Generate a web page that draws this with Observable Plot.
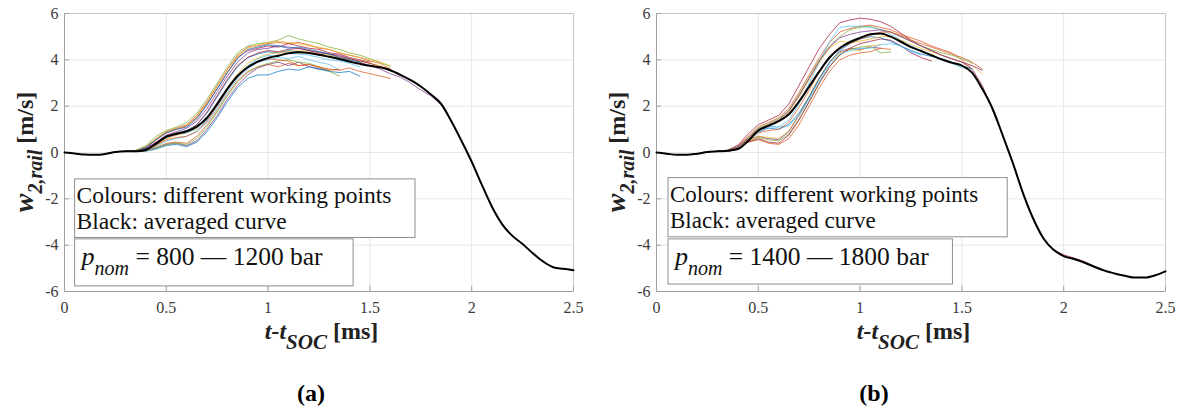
<!DOCTYPE html>
<html>
<head>
<meta charset="utf-8">
<script src="https://cdn.jsdelivr.net/npm/d3@7"></script>
<script src="https://cdn.jsdelivr.net/npm/@observablehq/plot@0.6"></script>
<style>
  html, body { margin: 0; padding: 0; background: #fff; }
  #wrap { position: relative; width: 1185px; height: 412px; overflow: hidden; background: #fff; }
  .panel { position: absolute; top: 0; }
  .cap { position: absolute; top: 381px; transform: translateX(-50%); font: bold 24px "Liberation Serif", serif; color: #000; line-height: 24px; }
  svg text { white-space: pre; font-family: "Liberation Serif", serif !important; }
</style>
</head>
<body>
<div id="wrap">
  <div class="panel" id="pa" style="left:0px"></div>
  <div class="panel" id="pb" style="left:592px"></div>
  <div class="cap" style="left:311px">(a)</div>
  <div class="cap" style="left:874px">(b)</div>
</div>
<script>
// ---------- data ----------
const xTicks = [0, 0.5, 1, 1.5, 2, 2.5];
const yTicks = [-6, -4, -2, 0, 2, 4, 6];

// time grid [ms]
const tGrid = [0,0.05,0.1,0.15,0.2,0.25,0.3,0.35,0.4,0.45,0.5,0.55,0.6,0.65,0.7,0.75,0.8,0.85,0.9,0.95,
  1,1.05,1.1,1.15,1.2,1.25,1.3,1.35,1.4,1.45,1.5,1.55,1.6,1.65,1.7,1.75,1.8,1.85,1.9,1.95,
  2,2.05,2.1,2.15,2.2,2.25,2.3,2.35,2.4,2.45,2.5];

// averaged curves (start at t = 0)
const blackA = [0,-0.04,-0.09,-0.1,-0.06,0.02,0.05,
  0.05,0.12,0.38,0.68,0.8,0.92,1.12,1.5,2.1,2.75,3.3,3.68,3.92,4.08,4.18,4.28,4.33,4.3,4.22,4.13,4.04,3.93,3.83,3.74,3.68,3.55,
  3.35,3.12,2.85,2.5,2.1,1.35,0.5,-0.4,-1.4,-2.35,-3.1,-3.6,-3.95,-4.35,-4.7,-4.95,-5.02,-5.08];
const blackB = [0,-0.05,-0.1,-0.1,-0.05,0.02,0.05,
  0.08,0.15,0.5,0.95,1.15,1.35,1.65,2.2,2.85,3.5,4.1,4.5,4.77,4.95,5.1,5.14,5.0,4.78,4.55,4.38,4.2,4.02,3.88,3.75,3.45,2.75,
  1.9,0.75,-0.45,-1.75,-2.85,-3.7,-4.2,-4.47,-4.6,-4.75,-4.93,-5.1,-5.22,-5.32,-5.4,-5.4,-5.3,-5.13];

// individual working points, panel (a) (start at t = 0.30)
const a01 = [0.05,0.1,0.3,0.7,0.95,1.1,1.3,1.7,2.3,3.0,3.7,4.3,4.6,4.7,4.75,4.85,5.05,4.9,4.8,4.7,4.55,4.45,4.3,4.2,4.05,3.9,3.7];
const a02 = [0.05,0.08,0.25,0.6,0.9,1.05,1.2,1.6,2.2,2.9,3.6,4.2,4.55,4.6,4.7,4.75,4.7,4.75,4.65,4.5,4.45,4.3,4.2,4.1,3.95,3.85,3.6];
const a03 = [0.05,0.06,0.2,0.55,0.85,1.0,1.15,1.5,2.1,2.75,3.45,4.1,4.4,4.5,4.6,4.55,4.7,4.6,4.5,4.45,4.3,4.25,4.1,4.0,3.9];
const a04 = [0.05,0.05,0.18,0.45,0.75,0.9,1.05,1.35,1.9,2.6,3.3,3.9,4.3,4.45,4.5,4.6,4.55,4.5,4.4,4.35,4.25,4.2,4.05,3.9,3.75,3.6,3.4,
  3.25,3.0,2.7,2.45,2.05,1.35];
const a05 = [0.05,0.05,0.15,0.4,0.7,0.85,0.95,1.2,1.7,2.4,3.1,3.7,4.1,4.25,4.35,4.3,4.4,4.35,4.3,4.2,4.15,4.0,3.9];
const a06 = [0.05,0.04,0.1,0.3,0.6,0.75,0.85,1.05,1.45,2.1,2.8,3.4,3.85,4.1,4.25,4.3,4.35,4.4,4.35,4.25,4.2,4.1,4.0,3.95,3.85,3.75,3.55];
const a07 = [0.05,0.04,0.08,0.25,0.5,0.6,0.7,0.9,1.3,1.9,2.6,3.2,3.6,3.9,4.0,4.1,4.05,4.15,4.0,3.9,3.8,3.55];
const a08 = [0.05,0.04,0.08,0.2,0.4,0.45,0.4,0.7,1.2,1.8,2.5,3.1,3.5,3.7,3.8,3.7,3.85,3.75,3.8,3.65,3.55,3.6];
const a09 = [0.05,0.04,0.06,0.2,0.35,0.4,0.3,0.5,1.0,1.6,2.3,2.9,3.35,3.65,3.8,3.9,3.75,3.9,3.7,3.6,3.55];
const a10 = [0.05,0.04,0.06,0.15,0.3,0.35,0.25,0.45,0.9,1.5,2.2,2.8,3.2,3.35,3.35,3.5,3.6,3.55,3.7,3.6,3.5,3.45,3.5,3.3];
const a11 = [0.05,0.04,0.07,0.2,0.35,0.4,0.35,0.6,1.1,1.75,2.45,3.05,3.45,3.7,3.85,3.95,4.0,3.9,3.85,3.7,3.5,3.3];
const a12 = [0.05,0.05,0.14,0.45,0.72,0.85,0.9,1.2,1.75,2.45,3.15,3.75,4.1,4.3,4.4,4.35,4.45,4.5,4.4,4.3,4.25,4.15,4.05,3.95,3.85,3.7,3.6];
const a13 = [0.05,0.08,0.25,0.6,0.9,1.0,1.15,1.55,2.15,2.85,3.55,4.15,4.5,4.65,4.75,4.8,4.75,4.7,4.6,4.55,4.45,4.3,4.2,4.1,4.0,3.9,3.75];
const a14 = [0.05,0.05,0.12,0.35,0.65,0.8,0.85,1.0,1.4,2.0,2.7,3.3,3.75,4.05,4.2,4.15,4.3,4.25,4.2,4.1,4.0,3.95,3.85,3.7];
const a15 = [0.05,0.05,0.1,0.3,0.55,0.65,0.7,0.9,1.35,2.0,2.7,3.3,3.7,3.95,4.05,4.0,3.95,3.75,3.8,3.7,3.6,3.55,3.65,3.5,3.4,3.3,3.2];
const a16 = [0.05,0.07,0.22,0.55,0.85,1.0,1.1,1.45,2.05,2.75,3.45,4.05,4.45,4.55,4.65,4.6,4.5,4.55,4.45,4.35,4.25,4.1,4.0,3.9];

// individual working points, panel (b) (start at t = 0.30)
const b01 = [0.05,0.1,0.32,0.8,1.2,1.4,1.6,2.1,2.9,3.7,4.5,5.1,5.6,5.72,5.8,5.75,5.65,5.45,5.15,4.85,4.6,4.4,4.2,4.05,3.9,3.6,2.9,
  1.85,0.75,-0.45,-1.75,-2.85,-3.7,-4.2,-4.42,-4.55,-4.7,-4.9,-5.08];
const b02 = [0.05,0.1,0.28,0.7,1.1,1.3,1.5,1.9,2.6,3.35,4.1,4.75,5.2,5.35,5.45,5.5,5.4,5.3,5.1,4.95,4.8,4.6,4.45,4.3,4.0,3.6];
const b03 = [0.05,0.08,0.25,0.65,1.05,1.25,1.45,1.8,2.5,3.25,4.0,4.6,5.0,5.3,5.4,5.45,5.3,5.2,5.0,4.8,4.6,4.45,4.3,4.2,4.05,3.85];
const b04 = [0.05,0.08,0.25,0.6,1.0,1.15,1.1,1.4,2.1,3.0,3.9,4.8,5.4,5.45,5.45,5.4,5.3,5.1,4.85,4.6,4.4,4.2,4.05,3.85,3.65];
const b05 = [0.05,0.06,0.2,0.55,0.7,0.6,0.55,0.9,1.6,2.4,3.2,3.9,4.35,4.5,4.45,4.55,4.5];
const b06 = [0.05,0.06,0.18,0.5,0.65,0.55,0.5,0.8,1.45,2.2,3.0,3.7,4.25,4.45,4.55,4.6,4.3,4.35];
const b07 = [0.05,0.05,0.15,0.45,0.55,0.4,0.35,0.6,1.2,2.0,2.8,3.5,4.0,4.2,4.3,4.35,4.5,4.45];
const b08 = [0.05,0.05,0.16,0.5,0.7,0.65,0.6,0.95,1.65,2.45,3.25,3.9,4.3,4.45,4.4,4.6,4.65];
const b09 = [0.05,0.05,0.14,0.45,0.6,0.45,0.4,0.75,1.4,2.2,3.0,3.7,4.2,4.5,4.7,4.8,4.9,4.85,4.6,4.3,4.1,3.95];
const b10 = [0.05,0.07,0.2,0.55,0.9,1.05,1.0,1.2,1.7,2.4,3.2,3.9,4.4,4.7,4.9,5.0,4.95,4.8,4.6,4.4,4.25,4.15,4.05,3.9,3.75,3.6];
const b11 = [0.05,0.08,0.22,0.6,1.0,1.2,1.35,1.75,2.4,3.15,3.9,4.5,4.8,4.75,4.8,4.9,5.0,5.0,4.85,4.65,4.5,4.35,4.2,4.05,3.9,3.75,3.4];
const b12 = [0.05,0.06,0.18,0.5,0.85,1.1,1.1,1.15,1.6,2.3,3.1,3.8,4.25,4.4,4.5,4.5,4.65,4.7,4.6,4.35,4.2];
const b13 = [0.05,0.08,0.24,0.62,1.0,1.2,1.4,1.8,2.45,3.2,3.95,4.55,4.95,5.1,5.2,5.25,5.3,5.2,5.0,4.8,4.6,4.4,4.2,4.05,3.9,3.75,3.55];
const b14 = [0.05,0.07,0.2,0.55,0.85,0.95,1.0,1.3,1.95,2.7,3.5,4.15,4.55,4.7,4.9,5.05,5.2,5.2,5.05,4.85,4.7,4.55,4.4,4.25,4.1,3.9,3.6];

// text
const legendLines = ["Colours: different working points", "Black: averaged curve"];
const pressureA = "= 800 \u2014 1200 bar";
const pressureB = "= 1400 \u2014 1800 bar";

// ---------- drawing ----------
const C = {blue:"#0072BD", orange:"#D95319", yellow:"#EDB120", purple:"#7E2F8E", green:"#77AC30", cyan:"#4DBEEE", red:"#A2142F"};
const curvesA = [
  [a01,C.green],[a02,C.orange],[a03,C.red],[a04,C.purple],[a05,C.blue],[a06,C.yellow],[a07,C.cyan],[a08,C.orange],
  [a09,C.purple],[a10,C.blue],[a11,C.green],[a12,C.red],[a13,C.yellow],[a14,C.cyan],[a15,C.orange],[a16,C.blue]];
const curvesB = [
  [b01,C.red],[b02,C.orange],[b03,C.green],[b04,C.cyan],[b05,C.purple],[b06,C.green],[b07,C.orange],[b08,C.yellow],
  [b09,C.red],[b10,C.blue],[b11,C.yellow],[b12,C.cyan],[b13,C.purple],[b14,C.orange]];

function rows(vals, start) { return vals.map((v, i) => ({t: tGrid[start + i], v})); }

const FONT = "Liberation Serif";

function panel(el, black, curves, boxes, pressure, fs1, fs2) {
  const W = 592, H = 362;
  const plot = Plot.plot({
    width: W, height: H,
    marginLeft: 64, marginRight: 19, marginTop: 13, marginBottom: 71,
    style: {fontFamily: "'Liberation Serif', serif", fontSize: "16px", color: "#3c3c3c", background: "#fff"},
    x: {domain: [0, 2.5], label: null},
    y: {domain: [-6, 6], label: null},
    marks: [
      Plot.gridX({ticks: xTicks, stroke: "#e6e6e6", strokeOpacity: 1}),
      Plot.gridY({ticks: yTicks, stroke: "#e6e6e6", strokeOpacity: 1}),
      Plot.frame({stroke: "#c8c8c8"}),
      Plot.ruleX([0], {stroke: "#a0a0a0"}),
      Plot.ruleY([-6], {stroke: "#a0a0a0"}),
      Plot.ruleY(yTicks, {y: d => d, x1: 0, x2: 0.025, stroke: "#a0a0a0"}),
      Plot.ruleX(xTicks, {x: d => d, y1: -6, y2: -5.78, stroke: "#a0a0a0"}),
      ...curves.map(([vals, col]) => Plot.line(rows(vals, 6), {x: "t", y: "v", stroke: col, strokeWidth: 0.9, strokeOpacity: 0.8})),
      Plot.line(rows(black, 0), {x: "t", y: "v", stroke: "#000", strokeWidth: 2, curve: "monotone-x"}),
      Plot.axisX({ticks: xTicks, tickSize: 0, tickPadding: 10, tickFormat: d => String(d), label: null}),
      Plot.axisY({ticks: yTicks, tickSize: 0, tickPadding: 6, tickFormat: d => String(d), label: null})
    ]
  });
  el.appendChild(plot);
  const sx = plot.scale("x"), sy = plot.scale("y");
  const svg = d3.select(plot);
  const g = svg.append("g").attr("font-family", FONT).attr("fill", "#000").attr("text-anchor", "start");

  // legend box
  const [lx0, lx1, ly0, ly1] = boxes.legend;
  const L = sx.apply(lx0), R = sx.apply(lx1), T = sy.apply(ly0), B = sy.apply(ly1);
  g.append("rect").attr("x", L).attr("y", T).attr("width", R - L).attr("height", B - T)
    .attr("fill", "#fff").attr("stroke", "#8f8f8f").attr("stroke-width", 1);
  legendLines.forEach((s, i) => {
    g.append("text").attr("x", L + 2).attr("y", T + 24 + i * 26).attr("text-anchor", "start")
      .attr("font-size", fs1).attr("fill", "#111").text(s);
  });

  // pressure box
  const [px0, px1, py0, py1] = boxes.nominal;
  const L2 = sx.apply(px0), R2 = sx.apply(px1), T2 = sy.apply(py0), B2 = sy.apply(py1);
  g.append("rect").attr("x", L2).attr("y", T2).attr("width", R2 - L2).attr("height", B2 - T2)
    .attr("fill", "#fff").attr("stroke", "#8f8f8f").attr("stroke-width", 1);
  const pt = g.append("text").attr("x", L2 + 7).attr("y", T2 + 26).attr("text-anchor", "start").attr("fill", "#111");
  pt.append("tspan").attr("font-style", "italic").attr("font-size", 26).text("p");
  pt.append("tspan").attr("font-style", "italic").attr("font-size", 20).attr("dy", 10).text("nom");
  pt.append("tspan").attr("font-size", fs2).attr("dy", -10).text(" " + pressure);

  // x label
  const cx = (sx.apply(0) + sx.apply(2.5)) / 2 + 3;
  const xl = g.append("text").attr("x", cx).attr("y", 339).attr("text-anchor", "middle").attr("font-weight", "bold").attr("fill", "#222");
  xl.append("tspan").attr("font-style", "italic").attr("font-size", 24).text("t-t");
  xl.append("tspan").attr("font-style", "italic").attr("font-size", 21).attr("dy", 10).text("SOC");
  xl.append("tspan").attr("font-size", 24).attr("dy", -10).text(" [ms]");

  // y label
  const cy = (sy.apply(6) + sy.apply(-6)) / 2;
  const yl = g.append("text").attr("transform", `translate(33,${cy}) rotate(-90)`).attr("text-anchor", "middle")
    .attr("font-weight", "bold").attr("fill", "#222");
  yl.append("tspan").attr("font-style", "italic").attr("font-size", 28).text("w");
  yl.append("tspan").attr("font-style", "italic").attr("font-size", 20).attr("dy", 9).text("2,rail");
  yl.append("tspan").attr("font-size", 24).attr("dy", -9).text(" [m/s]");
}

panel(document.getElementById("pa"), blackA, curvesA,
  {legend: [0.052, 1.724, -1.16, -3.69], nominal: [0.052, 1.42, -3.75, -5.78]}, pressureA, 23.5, 25.5);
panel(document.getElementById("pb"), blackB, curvesB,
  {legend: [0.059, 1.725, -1.105, -3.66], nominal: [0.059, 1.456, -3.75, -5.7]}, pressureB, 23, 25.5);
</script>
</body>
</html>
